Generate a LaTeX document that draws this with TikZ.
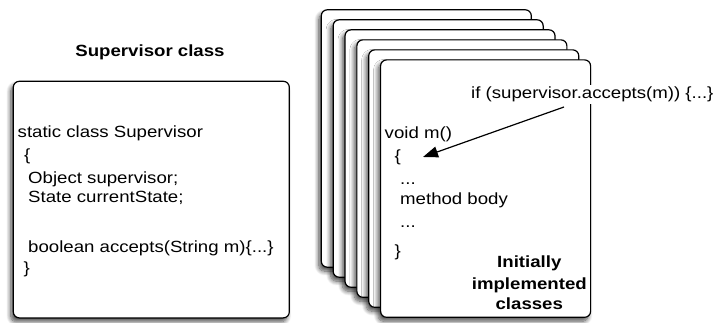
\documentclass[tikz,border=0pt]{standalone}
\usepackage{fontspec}
\usepackage{graphicx}
\setmainfont{Liberation Sans}
\usetikzlibrary{shadows.blur,arrows.meta}
\newcommand\wx[1]{\scalebox{1.15}[1]{#1}}
\begin{document}
\begin{tikzpicture}[x=1pt,y=-1pt,
  box/.style={draw=black, line width=1.2pt, rounded corners=6pt, fill=white, inner sep=0pt,
    blur shadow={shadow xshift=-2.5pt, shadow yshift=-4pt, shadow blur radius=4.5pt, shadow blur steps=10, shadow opacity=70}},
  card/.style={box, anchor=north west, minimum width=210pt, minimum height=257.4pt},
  code/.style={anchor=base west, inner sep=0pt, font=\fontsize{16.2}{20}\selectfont},
  heading/.style={anchor=base, inner sep=0pt, font=\fontsize{16.2}{20}\selectfont\bfseries},
  connector/.style={line width=1.2pt, -{Triangle[length=15pt,width=11pt]}}]
\useasboundingbox (0,0) rectangle (715,323);

% Supervisor class
\node[heading] (title) at (150,56.5) {\wx{Supervisor class}};
\node[box, anchor=north west, minimum width=276pt, minimum height=236.6pt] (sup) at (12.7,80.7) {};
\node[code] (s1) at (17.5,138) {\wx{static class Supervisor}};
\node[code] (s2) at (24,161) {\wx{\{}};
\node[code] (s3) at (28,184) {\wx{Object supervisor;}};
\node[code] (s4) at (28,203) {\wx{State currentState;}};
\node[code] (s5) at (28,252) {\wx{boolean accepts(String m)\{...\}}};
\node[code] (s6) at (23.5,273) {\wx{\}}};

% stack of classes
\foreach \i in {0,...,5}{
  \node[card] (card\i) at ({320.7+11.86*\i},{9.2+10.02*\i}) {};
}
\node[code] (m1) at (384.5,139) {\wx{void m()}};
\node[code] (m2) at (394.5,161.5) {\wx{\{}};
\node[code] (m3) at (400,185) {\wx{...}};
\node[code] (m4) at (400,205) {\wx{method body}};
\node[code] (m5) at (400,228) {\wx{...}};
\node[code] (m6) at (394.5,256.5) {\wx{\}}};

\node[heading] (lbl1) at (529.3,268) {\wx{Initially}};
\node[heading] (lbl2) at (529.3,289) {\wx{implemented}};
\node[heading] (lbl3) at (529.3,309) {\wx{classes}};

\coordinate (astart) at (564,107);
\coordinate (tip) at (423,157);
\draw[connector] (astart) -- (tip);
\node[code, fill=white, inner ysep=2pt] (iftext) at (471,99) {\wx{if (supervisor.accepts(m)) \{...\}}};
\end{tikzpicture}
\end{document}
